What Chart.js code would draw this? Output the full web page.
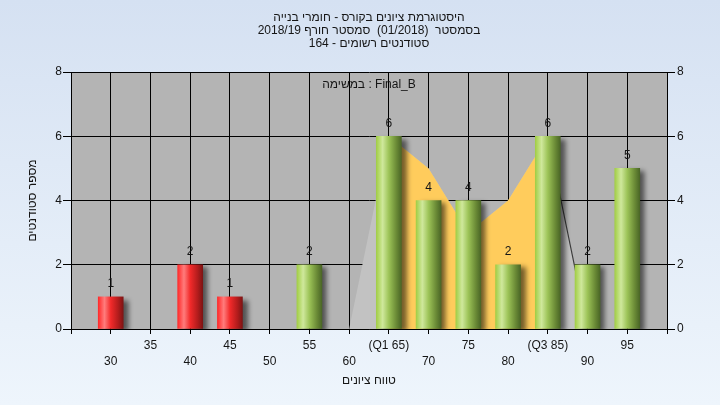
<!DOCTYPE html>
<html>
<head>
<meta charset="utf-8">
<script src="https://cdn.jsdelivr.net/npm/chart.js@4.4.1/dist/chart.umd.min.js"></script>
<style>
  html, body { margin: 0; padding: 0; }
  body { width: 720px; height: 405px; overflow: hidden; background: linear-gradient(#d5e1f2, #eef5fc); }
</style>
</head>
<body>
<canvas id="histChart" width="720" height="405"></canvas>
<script>
// נתוני ההיסטוגרמה
const grades = [30, 35, 40, 45, 50, 55, 60, 65, 70, 75, 80, 85, 90, 95];
const counts = [1, 0, 2, 1, 0, 2, 0, 6, 4, 4, 2, 6, 2, 5];

// שטח הרקע (מצולע)
const areaGrades = [60, 65, 70, 75, 80, 85, 90];
const areaCounts = [0, 6, 5, 3, 4, 6, 0];

const q1Grade = 65;
const q3Grade = 85;
const passGrade = 55;

const titleLines = [
    'היסטוגרמת ציונים בקורס - חומרי בנייה',
    'בסמסטר  (01/2018)  סמסטר חורף 2018/19',
    'סטודנטים רשומים - 164'
];
const taskLabel = 'במשימה : Final_B';
const xTitle = 'טווח ציונים';
const yTitle = 'מספר סטודנטים';

const FONT = '"Liberation Sans", "DejaVu Sans", Arial, sans-serif';
const TEXT = '#151515';

const greenStops = [[0, '#a2ce46'], [0.25, '#cfe89c'], [0.5, '#9cc357'], [0.8, '#6a8a36'], [1, '#4a6626']];
const redStops = [[0, '#ff2a2a'], [0.25, '#ff7c7c'], [0.5, '#f22a2a'], [0.8, '#b21c1c'], [1, '#7e1414']];

function barFill(c) {
    if (c.type !== 'data') return '#999';
    const xs = c.chart.scales.x;
    const grade = grades[c.dataIndex];
    const stops = grade < passGrade ? redStops : greenStops;
    if (!xs || !xs.width) return stops[2][1];
    const px = xs.getPixelForValue(grade);
    const g = c.chart.ctx.createLinearGradient(px - 12.5, 0, px + 12.5, 0);
    stops.forEach(s => g.addColorStop(s[0], s[1]));
    return g;
}

const plotBackground = {
    id: 'plotBackground',
    beforeDraw(chart) {
        const { ctx, chartArea: a } = chart;
        ctx.save();
        ctx.fillStyle = '#b4b4b4';
        ctx.fillRect(a.left, a.top, a.right - a.left, a.bottom - a.top);
        ctx.restore();
    }
};

const barShadow = {
    id: 'barShadow',
    beforeDatasetDraw(chart, args) {
        if (args.meta.type !== 'bar') return;
        const ctx = chart.ctx;
        ctx.save();
        ctx.shadowColor = 'rgba(0,0,0,0.55)';
        ctx.shadowBlur = 5;
        ctx.shadowOffsetX = 5;
        ctx.shadowOffsetY = 3;
    },
    afterDatasetDraw(chart, args) {
        if (args.meta.type !== 'bar') return;
        chart.ctx.restore();
    }
};

const textLayer = {
    id: 'textLayer',
    afterDatasetsDraw(chart) {
        const { ctx, chartArea: a } = chart;
        const cx = (a.left + a.right) / 2;
        ctx.save();
        ctx.font = '12px ' + FONT;
        ctx.fillStyle = TEXT;
        ctx.textAlign = 'center';
        ctx.textBaseline = 'middle';

        // ערכים מעל העמודות
        const meta = chart.getDatasetMeta(0);
        meta.data.forEach((el, i) => {
            if (!counts[i]) return;
            ctx.fillText(String(counts[i]), el.x, el.y - 13);
        });

        ctx.fillText(taskLabel, cx, 85);

        // כותרת
        titleLines.forEach((line, i) => {
            ctx.fillText(line, cx, 18 + i * 13);
        });
        ctx.restore();
    }
};

const barData = grades.map((g, i) => ({ x: g, y: counts[i] || null }));
const areaData = areaGrades.map((g, i) => ({ x: g, y: areaCounts[i] }));
const quartileData = areaData.filter(p => p.x >= q1Grade && p.x <= q3Grade);

const tickFont = { family: FONT, size: 12, lineHeight: 1.333 };

new Chart(document.getElementById('histChart'), {
    type: 'bar',
    data: {
        datasets: [
            {
                type: 'bar',
                data: barData,
                backgroundColor: barFill,
                borderWidth: 0,
                barThickness: 25,
                order: 0
            },
            {
                type: 'line',
                data: quartileData,
                borderWidth: 0,
                borderColor: 'rgba(0,0,0,0)',
                backgroundColor: '#ffcc5c',
                fill: 'origin',
                pointRadius: 0,
                tension: 0,
                order: 1
            },
            {
                type: 'line',
                data: areaData,
                borderWidth: 1.2,
                borderColor: 'rgba(0,0,0,0)',
                backgroundColor: '#c2c2c2',
                fill: 'origin',
                pointRadius: 0,
                tension: 0,
                segment: {
                    borderColor: c => c.p0.parsed.x === q3Grade ? '#3c3c3c' : 'rgba(0,0,0,0)'
                },
                order: 2
            }
        ]
    },
    options: {
        responsive: false,
        devicePixelRatio: 1,
        animation: false,
        layout: { padding: { top: 72, left: 0, right: 0, bottom: 0 } },
        plugins: {
            legend: { display: false },
            tooltip: { enabled: false }
        },
        scales: {
            x: {
                type: 'linear',
                offset: false,
                min: 25,
                max: 100,
                ticks: {
                    stepSize: 5,
                    autoSkip: false,
                    maxRotation: 0,
                    padding: 4,
                    color: TEXT,
                    font: tickFont,
                    callback: v => {
                        if (v === 25 || v === 100) return '';
                        let s = String(v);
                        if (v === q1Grade) s = '(Q1 ' + v + ')';
                        if (v === q3Grade) s = '(Q3 ' + v + ')';
                        return (v / 5) % 2 === 1 ? [s] : ['', s];
                    }
                },
                grid: { offset: false, color: '#000', lineWidth: 1, tickLength: 5, tickColor: '#000' },
                border: { color: '#000', width: 1 },
                title: {
                    display: true,
                    text: xTitle,
                    color: TEXT,
                    font: { family: FONT, size: 12 },
                    padding: { top: 0, bottom: 17 }
                },
                afterFit: s => { s.height = 76; }
            },
            y: {
                position: 'left',
                min: 0,
                max: 8,
                ticks: { stepSize: 2, padding: 1, color: TEXT, font: { family: FONT, size: 12 } },
                grid: { color: '#000', lineWidth: 1, tickLength: 8, tickColor: '#000' },
                border: { color: '#000', width: 1 },
                title: {
                    display: true,
                    text: yTitle,
                    color: TEXT,
                    font: { family: FONT, size: 12 },
                    padding: { top: 25, bottom: 0 }
                },
                afterFit: s => { s.width = 71; }
            },
            y2: {
                position: 'right',
                min: 0,
                max: 8,
                ticks: { stepSize: 2, padding: 2, color: TEXT, font: { family: FONT, size: 12 } },
                grid: { drawOnChartArea: false, tickLength: 8, tickColor: '#000' },
                border: { color: '#000', width: 1 },
                afterFit: s => { s.width = 53; }
            }
        }
    },
    plugins: [plotBackground, barShadow, textLayer]
});
</script>
</body>
</html>
